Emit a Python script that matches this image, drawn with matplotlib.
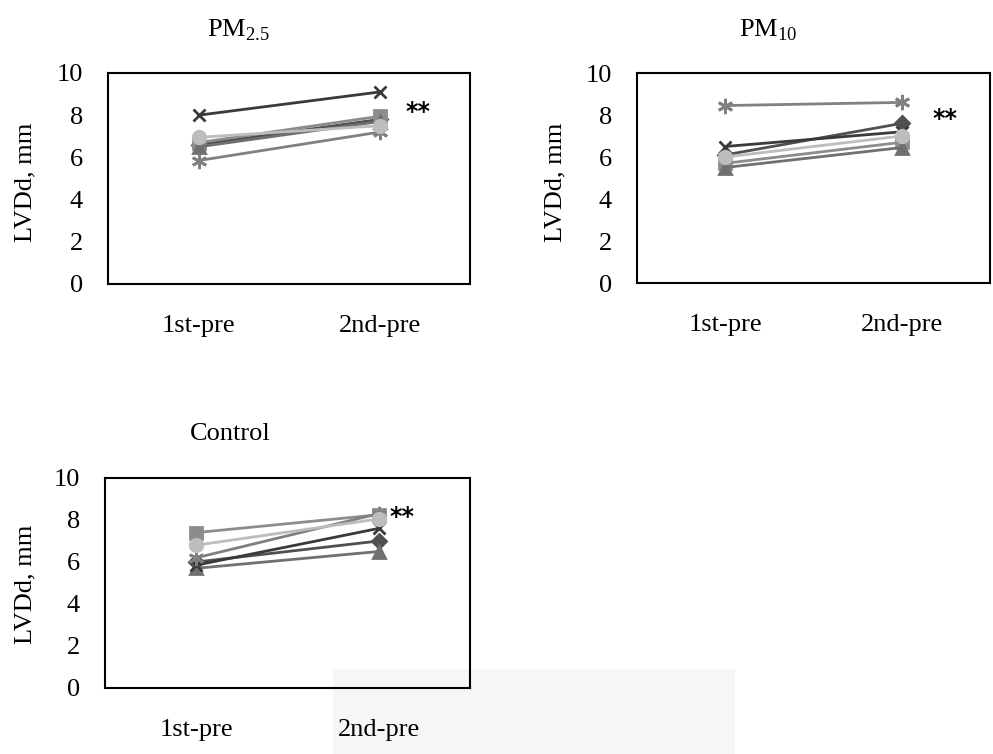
import matplotlib
matplotlib.use('Agg')
from matplotlib import pyplot as plt
from matplotlib.patches import Rectangle

plt.rcParams['font.family'] = ['Liberation Serif', 'DejaVu Serif']
plt.rcParams['mathtext.fontset'] = 'custom'
plt.rcParams['mathtext.rm'] = 'Liberation Serif'

categories = ['1st-pre', '2nd-pre']
y_ticks = [0, 2, 4, 6, 8, 10]

# series order: diamond, square, triangle, x, asterisk, circle
pm25_1st = [6.6, 6.7, 6.5, 8.0, 5.85, 6.95]
pm25_2nd = [7.8, 7.95, 7.7, 9.1, 7.2, 7.5]
pm10_1st = [6.1, 5.7, 5.5, 6.5, 8.45, 6.0]
pm10_2nd = [7.6, 6.7, 6.45, 7.2, 8.6, 7.0]
control_1st = [6.0, 7.4, 5.7, 5.85, 6.2, 6.8]
control_2nd = [7.0, 8.25, 6.5, 7.6, 8.3, 8.05]

markers = ['D', 's', '^', 'x', (6, 2, 0), 'o']
colors = ['#505050', '#8c8c8c', '#707070', '#3a3a3a', '#808080', '#bdbdbd']
msizes = [7, 8, 8, 9, 11, 9]

fig = plt.figure(figsize=(9.93, 7.54), dpi=100)

# faint watermark area bottom
fig.patches.append(Rectangle((333 / 993, 0), 402 / 993, 85 / 754, transform=fig.transFigure,
                             facecolor='#f6f6f6', edgecolor='none', zorder=-5))


def panel(rect, first, second, title, title_xy, ylab_xy, star_xy):
    ax = fig.add_axes(rect)
    ax.patch.set_alpha(0)
    for i in range(len(first)):
        ax.plot([0, 1], [first[i], second[i]], color=colors[i], lw=2, marker=markers[i],
                ms=msizes[i], mec=colors[i], mfc=colors[i], mew=2)
    ax.set_xlim(-0.5, 1.5)
    ax.set_ylim(0, 10)
    ax.set_xticks([0, 1])
    ax.set_xticklabels(categories)
    ax.set_yticks(y_ticks)
    ax.tick_params(length=0, labelsize=19)
    ax.tick_params(axis='x', pad=22)
    ax.tick_params(axis='y', pad=18)
    for s in ax.spines.values():
        s.set_linewidth(1.5)
    ax.text(star_xy[0], star_xy[1], '**', fontsize=17, ha='center', va='center',
            family='DejaVu Sans', fontweight='bold')
    fig.text(title_xy[0] / 993, 1 - title_xy[1] / 754, title, fontsize=19, ha='center', va='center')
    fig.text(ylab_xy[0] / 993, 1 - ylab_xy[1] / 754, 'LVDd, mm', fontsize=19, rotation=90,
             ha='center', va='center')
    return ax


panel([108 / 993, 1 - 284 / 754, 362 / 993, 211 / 754], pm25_1st, pm25_2nd,
      r'PM$_{\mathregular{2.5}}$', (238, 30), (25, 182), (1.215, 8.15))
panel([637 / 993, 1 - 283 / 754, 353 / 993, 210 / 754], pm10_1st, pm10_2nd,
      r'PM$_{\mathregular{10}}$', (768, 30), (555, 182), (1.245, 7.8))
panel([105 / 993, 1 - 688 / 754, 365 / 993, 210 / 754], control_1st, control_2nd,
      'Control', (230, 434), (25, 584), (1.13, 8.15))

fig.savefig('out.png', dpi=100)
